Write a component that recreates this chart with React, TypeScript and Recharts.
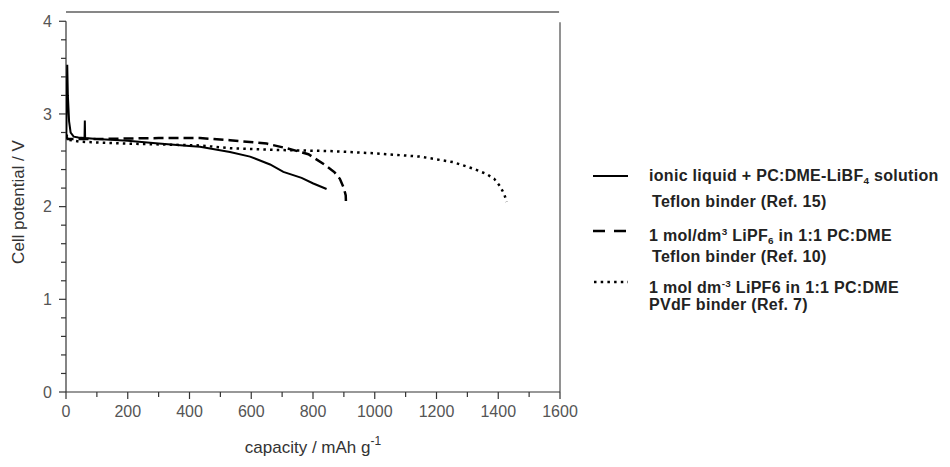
import React from 'react';
import { LineChart, Line, XAxis, YAxis, ReferenceLine, Legend } from 'recharts';

// ---- data ----
const solidCap = [1, 4, 6, 10, 15, 25, 40, 60, 61, 62, 100, 200, 300, 400, 434, 531, 596, 661, 704, 763, 801, 844];
const solidV = [2.74, 3.53, 3.2, 2.92, 2.8, 2.755, 2.745, 2.74, 2.93, 2.74, 2.73, 2.71, 2.68, 2.655, 2.645, 2.59, 2.54, 2.455, 2.375, 2.31, 2.25, 2.19];

const dashCap = [0, 5, 100, 200, 300, 434, 531, 650, 715, 785, 839, 870, 887, 900, 906, 907];
const dashV = [2.77, 2.73, 2.73, 2.735, 2.74, 2.74, 2.717, 2.68, 2.63, 2.566, 2.45, 2.37, 2.3, 2.2, 2.12, 2.02];

const dotCap = [0, 10, 45, 200, 434, 531, 700, 855, 1000, 1147, 1254, 1319, 1363, 1387, 1406, 1420, 1427];
const dotV = [2.78, 2.72, 2.7, 2.68, 2.66, 2.63, 2.61, 2.6, 2.575, 2.54, 2.48, 2.41, 2.35, 2.3, 2.22, 2.13, 2.05];

const xTicks = [0, 100, 200, 300, 400, 500, 600, 700, 800, 900, 1000, 1100, 1200, 1300, 1400, 1500, 1600];
const yTicks = [0, 0.2, 0.4, 0.6, 0.8, 1, 1.2, 1.4, 1.6, 1.8, 2, 2.2, 2.4, 2.6, 2.8, 3, 3.2, 3.4, 3.6, 3.8, 4];

const toPoints = (caps: number[], vs: number[]) => caps.map((c, i) => ({ cap: c, v: vs[i] }));
const solidData = toPoints(solidCap, solidV);
const dashData = toPoints(dashCap, dashV);
const dotData = toPoints(dotCap, dotV);

const FONT = '"Liberation Sans", Arial, sans-serif';
const AXIS = '#333';

const XTick = (props: any) => {
  const { x, y, payload } = props;
  const major = payload.value % 200 === 0;
  return (
    <g>
      <line x1={x} x2={x} y1={y} y2={y + (major ? 7 : 5)} stroke={AXIS} strokeWidth={1.2} />
      {major && (
        <text x={x} y={y + 19} dy="0.35em" textAnchor="middle" fontSize={16} fill="#555" fontFamily={FONT}>
          {payload.value}
        </text>
      )}
    </g>
  );
};

const YTick = (props: any) => {
  const { x, y, payload } = props;
  const major = Math.abs(payload.value - Math.round(payload.value)) < 1e-6;
  if (payload.value > 4.01) return null;
  return (
    <g>
      <line x1={x} x2={x - (major ? 7 : 5)} y1={y} y2={y} stroke={AXIS} strokeWidth={1.2} />
      {major && (
        <text x={x - 14} y={y} dy="0.35em" textAnchor="end" fontSize={16} fill="#555" fontFamily={FONT}>
          {Math.round(payload.value)}
        </text>
      )}
    </g>
  );
};

const legendText: React.CSSProperties = {
  position: 'absolute',
  whiteSpace: 'nowrap',
  fontFamily: FONT,
  fontSize: 16,
  fontWeight: 'bold',
  letterSpacing: 0.3,
  color: '#222',
  lineHeight: '18px',
};

const subStyle: React.CSSProperties = { fontSize: '0.62em', verticalAlign: '-0.35em' };
const supStyle: React.CSSProperties = { fontSize: '0.62em', verticalAlign: '0.6em' };

const renderLegend = () => (
  <div style={{ position: 'relative', width: 0, height: 0 }}>
    <svg style={{ position: 'absolute', left: 580, top: 160, overflow: 'visible' }} width={50} height={130}>
      <line x1={5} x2={40} y1={8} y2={8} stroke="#000" strokeWidth={2} />
      <line x1={5} x2={40} y1={63} y2={63} stroke="#000" strokeWidth={2.5} strokeDasharray="12 9" />
      <line x1={6} x2={40} y1={114} y2={114} stroke="#000" strokeWidth={2.5} strokeDasharray="2.5 4.2" />
    </svg>
    <div style={{ ...legendText, left: 641, top: 159 }}>
      ionic liquid + PC:DME-LiBF<span style={subStyle}>4</span> solution
    </div>
    <div style={{ ...legendText, left: 644, top: 185 }}>Teflon binder (Ref. 15)</div>
    <div style={{ ...legendText, left: 641, top: 215 }}>
      1 mol/dm<span style={supStyle}>3</span> LiPF<span style={subStyle}>6</span> in 1:1 PC:DME
    </div>
    <div style={{ ...legendText, left: 644, top: 240 }}>Teflon binder (Ref. 10)</div>
    <div style={{ ...legendText, left: 641, top: 267 }}>
      1 mol dm<span style={supStyle}>-3</span> LiPF6 in 1:1 PC:DME
    </div>
    <div style={{ ...legendText, left: 641, top: 288 }}>PVdF binder (Ref. 7)</div>
  </div>
);

const XLabel = (props: any) => {
  const vb = props.viewBox || {};
  const cx = vb.x + vb.width / 2;
  const y = vb.y + 55;
  return (
    <text x={cx} y={y} dy="0.35em" textAnchor="middle" fontSize={17} fill="#333" fontFamily={FONT}>
      <tspan>capacity / mAh g</tspan>
      <tspan dy={-8} fontSize={12}>-1</tspan>
    </text>
  );
};

const YLabel = (props: any) => {
  const vb = props.viewBox || {};
  const cy = vb.y + vb.height / 2;
  const x = 10;
  return (
    <text x={x} y={cy} dy="0.35em" textAnchor="middle" fontSize={17} fill="#333" fontFamily={FONT} transform={`rotate(-90 ${x} ${cy})`}>
      Cell potential / V
    </text>
  );
};

export default function App() {
  return (
    <div style={{ width: 942, height: 459 }}>
      <LineChart width={942} height={459} margin={{ top: 4, right: 390, bottom: 0, left: 0 }}>
        <XAxis
          dataKey="cap"
          type="number"
          domain={[0, 1600]}
          ticks={xTicks}
          interval={0}
          tickSize={0}
          tickMargin={0}
          tickLine={false}
          tick={<XTick />}
          axisLine={{ stroke: AXIS, strokeWidth: 1.2 }}
          height={75}
          allowDataOverflow
          label={<XLabel />}
        />
        <YAxis
          dataKey="v"
          type="number"
          domain={[0, 4.1]}
          ticks={yTicks}
          interval={0}
          tickSize={0}
          tickMargin={0}
          tickLine={false}
          tick={<YTick />}
          axisLine={false}
          width={58}
          allowDataOverflow
          label={<YLabel />}
        />
        <ReferenceLine segment={[{ x: 0, y: 0 }, { x: 0, y: 4 }]} stroke={AXIS} strokeWidth={1.2} />
        <ReferenceLine segment={[{ x: 1600, y: 0 }, { x: 1600, y: 3.99 }]} stroke="#777" strokeWidth={1.6} />
        <ReferenceLine segment={[{ x: 0, y: 4.1 }, { x: 1597, y: 4.1 }]} stroke="#111" strokeWidth={1.2} />
        <Line data={solidData} dataKey="v" type="linear" stroke="#000" strokeWidth={2} dot={false} isAnimationActive={false} />
        <Line data={dashData} dataKey="v" type="linear" stroke="#000" strokeWidth={2.5} strokeDasharray="10 5" dot={false} isAnimationActive={false} />
        <Line data={dotData} dataKey="v" type="linear" stroke="#000" strokeWidth={2.5} strokeDasharray="2.5 4.2" dot={false} isAnimationActive={false} />
        <Legend content={renderLegend} wrapperStyle={{ left: 0, top: 0, width: 0, height: 0, overflow: 'visible' }} />
      </LineChart>
    </div>
  );
}
